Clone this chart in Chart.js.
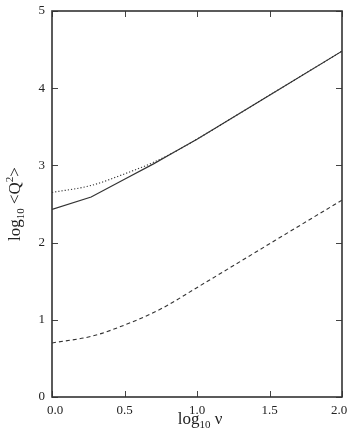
<!DOCTYPE html>
<html>
<head>
<meta charset="utf-8">
<script src="https://cdn.jsdelivr.net/npm/chart.js@4.4.1/dist/chart.umd.min.js"></script>
<style>
  html, body { margin: 0; padding: 0; background: #fff; }
  #wrap { width: 348px; height: 439px; position: relative; }
</style>
</head>
<body>
<div id="wrap"><canvas id="myChart"></canvas></div>
<script>
// log10 nu positions and log10 <Q^2> values
const solidX = [0, 0.27, 0.5, 0.7, 0.85, 1.0, 1.5, 2.0];
const solidY = [2.43, 2.59, 2.82, 3.02, 3.18, 3.34, 3.91, 4.48];

const dottedX = [0, 0.27, 0.5, 0.7, 0.85, 1.0, 1.5, 2.0];
const dottedY = [2.65, 2.74, 2.89, 3.04, 3.18, 3.34, 3.91, 4.48];

const dashedX = [0, 0.28, 0.55, 0.76, 1.02, 1.54, 2.0];
const dashedY = [0.70, 0.79, 0.97, 1.15, 1.44, 2.03, 2.55];

const xTicks = [0, 0.5, 1.0, 1.5, 2.0];
const xTickLabels = ['0.0', '0.5', '1.0', '1.5', '2.0'];
const yTicks = [0, 1, 2, 3, 4, 5];

const toPoints = (xs, ys) => xs.map((x, i) => ({ x, y: ys[i] }));

const lineColor = '#333';
const serif = "'Liberation Serif', 'Times New Roman', serif";

// frame, inward ticks on all four sides, x tick labels and axis titles
const framePlugin = {
    id: 'frame',
    afterDraw(chart) {
        const { ctx, chartArea: a, scales } = chart;
        const len = 6;
        ctx.save();
        ctx.strokeStyle = '#444';
        ctx.lineWidth = 1;
        xTicks.forEach(v => {
            const px = Math.round(scales.x.getPixelForValue(v)) + 0.5;
            ctx.beginPath();
            ctx.moveTo(px, a.bottom); ctx.lineTo(px, a.bottom - len);
            ctx.moveTo(px, a.top); ctx.lineTo(px, a.top + len);
            ctx.stroke();
        });
        yTicks.forEach(v => {
            const py = Math.round(scales.y.getPixelForValue(v)) + 0.5;
            ctx.beginPath();
            ctx.moveTo(a.left, py); ctx.lineTo(a.left + len, py);
            ctx.moveTo(a.right, py); ctx.lineTo(a.right - len, py);
            ctx.stroke();
        });
        ctx.lineWidth = 1.6;
        ctx.strokeStyle = '#333';
        ctx.strokeRect(a.left, a.top, a.right - a.left, a.bottom - a.top);

        ctx.fillStyle = '#222';
        ctx.textBaseline = 'alphabetic';

        // x tick labels, end ones nudged inside the canvas
        ctx.font = '13px ' + serif;
        ctx.textAlign = 'center';
        xTicks.forEach((v, i) => {
            let px = scales.x.getPixelForValue(v);
            if (i === 0) px += 3;
            if (i === xTicks.length - 1) px -= 3;
            ctx.fillText(xTickLabels[i], px, a.bottom + 17);
        });

        // x title: log10 ν
        const xcx = (a.left + a.right) / 2;
        const xby = 424;
        ctx.font = '17px ' + serif;
        const wLog = ctx.measureText('log').width;
        ctx.font = '11px ' + serif;
        const wSub = ctx.measureText('10').width;
        ctx.font = '17px ' + serif;
        const wNu = ctx.measureText(' ν').width;
        let x0 = xcx - (wLog + wSub + wNu) / 2 + 3;
        ctx.textAlign = 'left';
        ctx.fillText('log', x0, xby);
        ctx.font = '11px ' + serif;
        ctx.fillText('10', x0 + wLog, xby + 4);
        ctx.font = '17px ' + serif;
        ctx.fillText(' ν', x0 + wLog + wSub, xby);

        // y title: log10 <Q2>
        ctx.translate(20, (a.top + a.bottom) / 2);
        ctx.rotate(-Math.PI / 2);
        ctx.font = '17px ' + serif;
        const yLog = ctx.measureText('log').width;
        ctx.font = '11px ' + serif;
        const ySub = ctx.measureText('10').width;
        ctx.font = '17px ' + serif;
        const yQ = ctx.measureText(' <Q').width;
        ctx.font = '11px ' + serif;
        const ySup = ctx.measureText('2').width;
        ctx.font = '17px ' + serif;
        const yGt = ctx.measureText('>').width;
        let y0 = -(yLog + ySub + yQ + ySup + yGt) / 2;
        ctx.fillText('log', y0, 0);
        ctx.font = '11px ' + serif;
        ctx.fillText('10', y0 + yLog, 4);
        ctx.font = '17px ' + serif;
        ctx.fillText(' <Q', y0 + yLog + ySub, 0);
        ctx.font = '11px ' + serif;
        ctx.fillText('2', y0 + yLog + ySub + yQ, -7);
        ctx.font = '17px ' + serif;
        ctx.fillText('>', y0 + yLog + ySub + yQ + ySup, 0);
        ctx.restore();
    }
};

const ctx = document.getElementById('myChart').getContext('2d');
new Chart(ctx, {
    type: 'line',
    data: {
        datasets: [
            {
                label: 'solid',
                data: toPoints(solidX, solidY),
                borderColor: lineColor,
                borderWidth: 1.2,
                pointRadius: 0,
                tension: 0,
                fill: false
            },
            {
                label: 'dotted',
                data: toPoints(dottedX, dottedY),
                borderColor: lineColor,
                borderWidth: 1.1,
                borderDash: [1.2, 2],
                pointRadius: 0,
                cubicInterpolationMode: 'monotone',
                fill: false
            },
            {
                label: 'dashed',
                data: toPoints(dashedX, dashedY),
                borderColor: lineColor,
                borderWidth: 1.1,
                borderDash: [4, 3],
                pointRadius: 0,
                cubicInterpolationMode: 'monotone',
                fill: false
            }
        ]
    },
    options: {
        animation: false,
        responsive: true,
        maintainAspectRatio: false,
        layout: {
            padding: { top: 11, right: 6, left: 0, bottom: 0 }
        },
        plugins: {
            legend: { display: false },
            tooltip: { enabled: false }
        },
        scales: {
            x: {
                type: 'linear',
                min: 0,
                max: 2,
                afterBuildTicks: scale => {
                    scale.ticks = xTicks.map(value => ({ value }));
                },
                afterFit: scale => {
                    scale.height = 42;
                    scale.paddingLeft = 0;
                    scale.paddingRight = 0;
                },
                grid: { display: false, drawTicks: false },
                border: { display: false },
                ticks: { display: false }
            },
            y: {
                type: 'linear',
                min: 0,
                max: 5,
                afterBuildTicks: scale => {
                    scale.ticks = yTicks.map(value => ({ value }));
                },
                afterFit: scale => {
                    scale.width = 52;
                    scale.paddingTop = 0;
                    scale.paddingBottom = 0;
                },
                grid: { display: false, drawTicks: false },
                border: { display: false },
                ticks: {
                    padding: 7,
                    color: '#222',
                    font: { family: serif, size: 13 },
                    callback: v => String(v)
                }
            }
        }
    },
    plugins: [framePlugin]
});
</script>
</body>
</html>
